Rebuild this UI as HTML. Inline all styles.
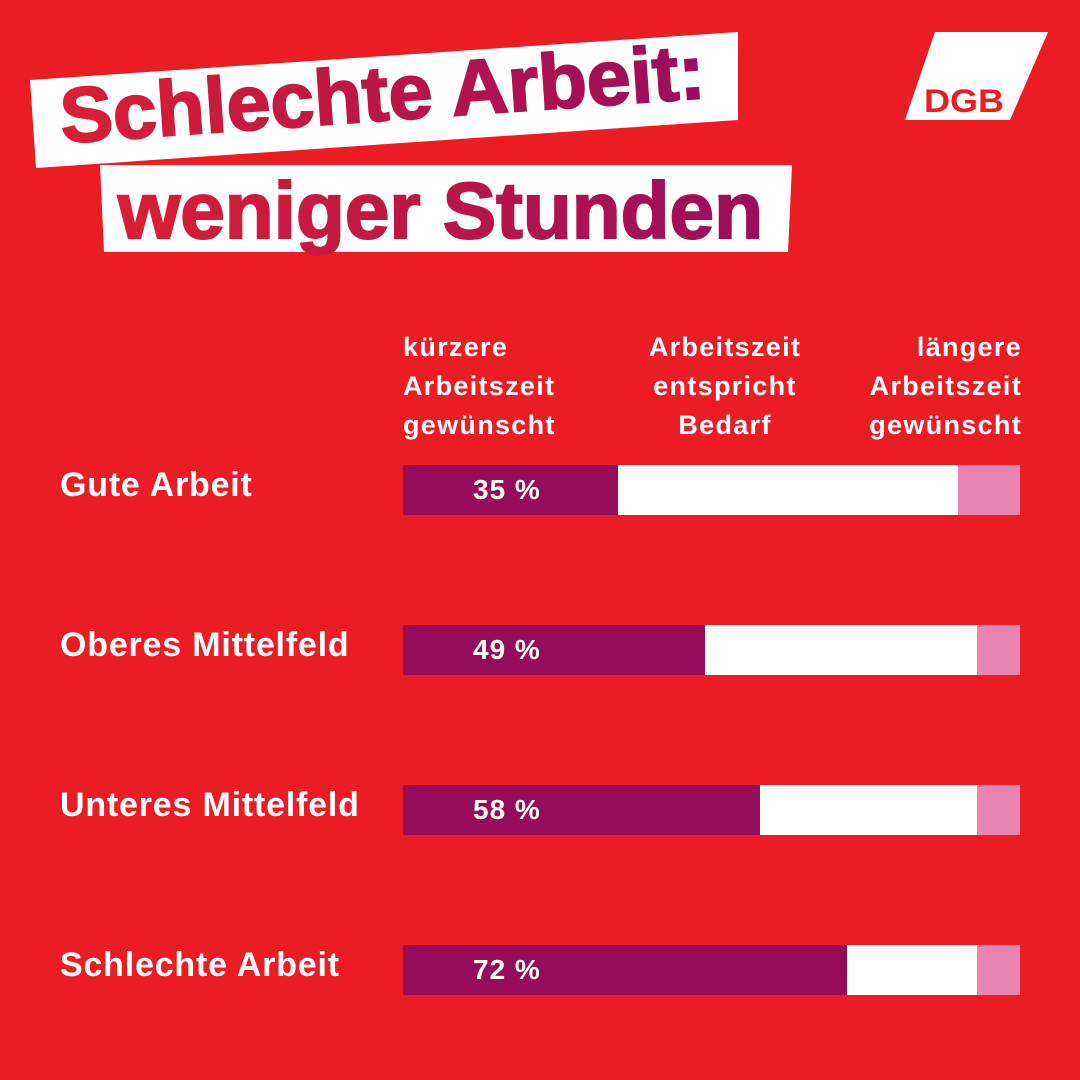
<!DOCTYPE html>
<html><head><meta charset="utf-8"><style>
body{margin:0;width:1080px;height:1080px;background:#EC1C24;position:relative;overflow:hidden;font-family:"Liberation Sans",sans-serif;font-weight:bold}
.a{position:absolute}
.h{color:#fff;font-size:27px;line-height:39px;top:328px;letter-spacing:1.3px}
.r{color:#fff;font-size:34px;left:60px;line-height:40px;letter-spacing:0.8px}
.bar{position:absolute;left:403px;width:617px;height:50px;background:#fff}
.bar div{position:absolute;top:0;height:50px}
.p{left:0;background:#960C5A;color:#fff;font-size:28px;line-height:50px;letter-spacing:1px}
.p span{position:absolute;left:70px}
.k{right:0;width:43px;background:#E885B5}
</style></head><body>
<svg class="a" style="left:0;top:0" width="1080" height="280">
<defs><linearGradient id="g" x1="0" x2="1"><stop offset="0" stop-color="#DA1F34"/><stop offset="1" stop-color="#9A0D5C"/></linearGradient></defs>
<polygon points="30,80 738,32 738,120 36,168" fill="#fff"/>
<polygon points="100,165 792,165 788,252 104,252" fill="#fff"/>
<text x="62" y="143" transform="rotate(-4 62 143)" font-family="Liberation Sans" font-weight="bold" font-size="78" fill="url(#g)" stroke="url(#g)" stroke-width="2" textLength="646" lengthAdjust="spacingAndGlyphs">Schlechte Arbeit:</text>
<text x="118" y="238" font-family="Liberation Sans" font-weight="bold" font-size="80" fill="url(#g)" stroke="url(#g)" stroke-width="2" textLength="645" lengthAdjust="spacingAndGlyphs">weniger Stunden</text>
<polygon points="935,32 1048,32 1010,120 905,120" fill="#fff"/>
<text x="924" y="112" font-family="Liberation Sans" font-weight="bold" font-size="32" fill="#EC1C24" textLength="80" lengthAdjust="spacingAndGlyphs">DGB</text>
</svg>
<div class="a h" style="left:403px">kürzere<br>Arbeitszeit<br>gewünscht</div>
<div class="a h" style="left:615px;width:220px;text-align:center">Arbeitszeit<br>entspricht<br>Bedarf</div>
<div class="a h" style="right:58px;text-align:right">längere<br>Arbeitszeit<br>gewünscht</div>
<div class="a r" style="top:465px">Gute Arbeit</div>
<div class="a r" style="top:625px">Oberes Mittelfeld</div>
<div class="a r" style="top:785px">Unteres Mittelfeld</div>
<div class="a r" style="top:945px">Schlechte Arbeit</div>
<div class="bar" style="top:465px"><div class="p" style="width:215px"><span>35 %</span></div><div class="k" style="width:62px"></div></div>
<div class="bar" style="top:625px"><div class="p" style="width:302px"><span>49 %</span></div><div class="k"></div></div>
<div class="bar" style="top:785px"><div class="p" style="width:357px"><span>58 %</span></div><div class="k"></div></div>
<div class="bar" style="top:945px"><div class="p" style="width:444px"><span>72 %</span></div><div class="k"></div></div>
</body></html>
